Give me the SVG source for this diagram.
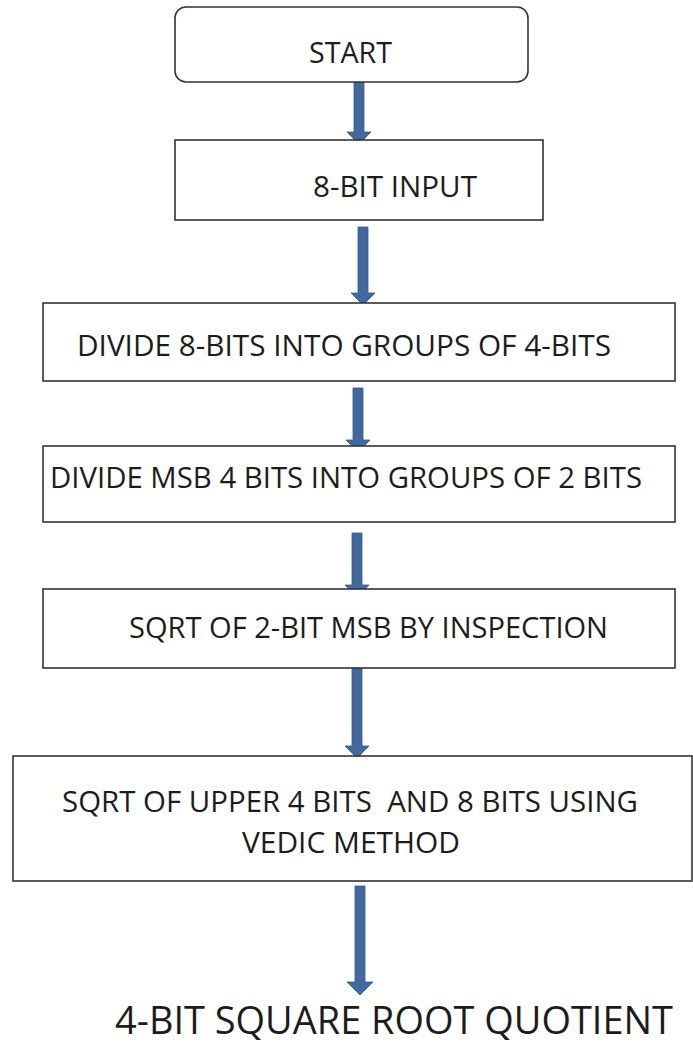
<svg xmlns="http://www.w3.org/2000/svg" width="693" height="1046" viewBox="0 0 693 1046">
<style>
  .box { fill: #ffffff; stroke: #333333; stroke-width: 1.6; }
  .lbl { font-family: "Open Sans", "Lato", "Liberation Sans", sans-serif; font-size: 29.5px; fill: #1c1c1c; }
  .big { font-size: 38px; }
  .arrow { fill: #41699e; stroke: #36598a; stroke-width: 0.8; }
</style>
<rect x="0" y="0" width="693" height="1046" fill="#ffffff"/>

<g id="connectors">
  <path class="arrow" d="M354 82 L364 82 L364 132 L371 132 L359 144 L347 132 L354 132 Z"/>
  <path class="arrow" d="M358 227 L368 227 L368 293 L375 293 L363 305 L351 293 L358 293 Z"/>
  <path class="arrow" d="M353 388 L363 388 L363 440 L370 440 L358 452 L346 440 L353 440 Z"/>
  <path class="arrow" d="M352 533 L362 533 L362 585 L369 585 L357 597 L345 585 L352 585 Z"/>
  <path class="arrow" d="M352 667 L362 667 L362 746 L369 746 L357 758 L345 746 L352 746 Z"/>
  <path class="arrow" d="M355 886 L365 886 L365 982 L373 982 L360 995 L347 982 L355 982 Z"/>
</g>

<g id="start">
  <rect class="box" x="175" y="7" width="353" height="75" rx="11" ry="11"/>
  <text class="lbl" x="309" y="63" textLength="83" lengthAdjust="spacingAndGlyphs">START</text>
</g>

<g id="input">
  <rect class="box" x="175" y="140" width="368" height="80"/>
  <text class="lbl" x="313" y="197" textLength="164" lengthAdjust="spacingAndGlyphs">8-BIT INPUT</text>
</g>

<g id="divide8">
  <rect class="box" x="43" y="303" width="632" height="78"/>
  <text class="lbl" x="77" y="356" textLength="534" lengthAdjust="spacingAndGlyphs">DIVIDE 8-BITS INTO GROUPS OF 4-BITS</text>
</g>

<g id="divideMSB">
  <rect class="box" x="43" y="446" width="632" height="76"/>
  <text class="lbl" x="50" y="488" textLength="592" lengthAdjust="spacingAndGlyphs">DIVIDE MSB 4 BITS INTO GROUPS OF 2 BITS</text>
</g>

<g id="sqrt2">
  <rect class="box" x="43" y="589" width="632" height="79"/>
  <text class="lbl" x="129" y="638" textLength="479" lengthAdjust="spacingAndGlyphs">SQRT OF 2-BIT MSB BY INSPECTION</text>
</g>

<g id="vedic">
  <rect class="box" x="13" y="756" width="679" height="125"/>
  <text class="lbl" x="62" y="812" textLength="576" lengthAdjust="spacingAndGlyphs" xml:space="preserve">SQRT OF UPPER 4 BITS  AND 8 BITS USING</text>
  <text class="lbl" x="242" y="853" textLength="218" lengthAdjust="spacingAndGlyphs">VEDIC METHOD</text>
</g>

<g id="output">
  <text class="lbl big" x="115" y="1034" textLength="558" lengthAdjust="spacingAndGlyphs">4-BIT SQUARE ROOT QUOTIENT</text>
</g>
</svg>
